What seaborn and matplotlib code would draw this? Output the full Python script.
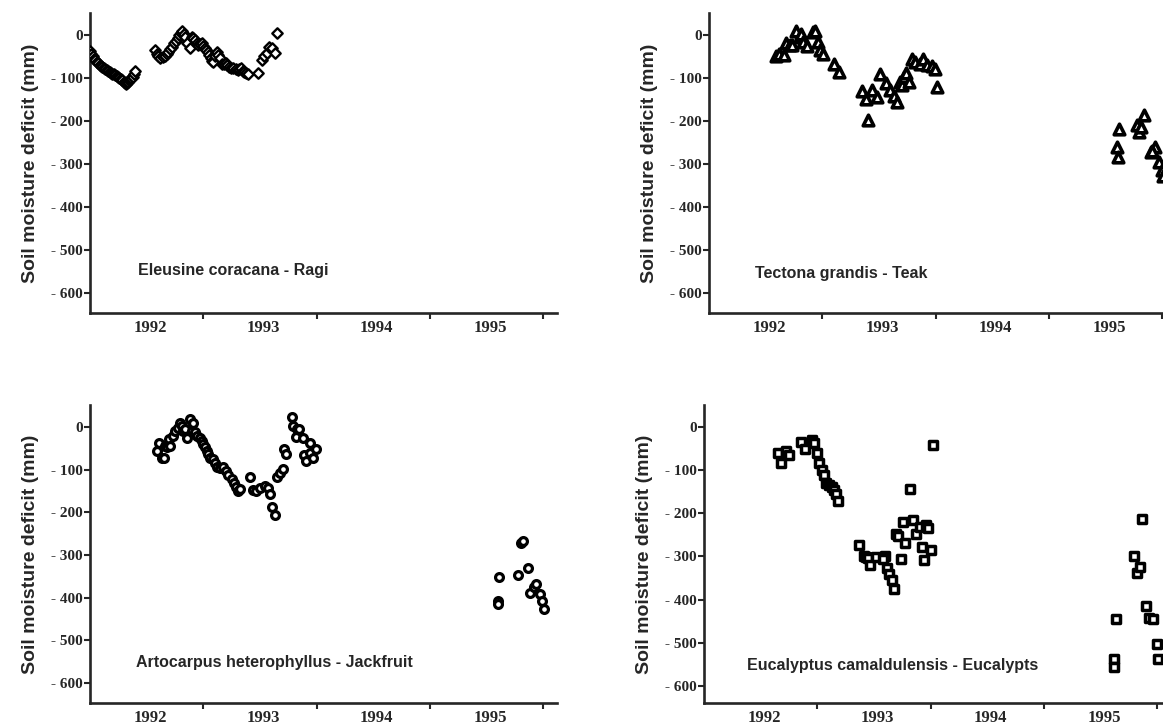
import numpy as np
import pandas as pd
import matplotlib
matplotlib.use("Agg")
import matplotlib.pyplot as plt
import seaborn as sns

sns.set_style("ticks")
plt.rcParams["font.family"] = ["Liberation Sans", "DejaVu Sans"]

# ------------------------------------------------------------------
# Datos (año decimal, déficit de humedad en mm)
# ------------------------------------------------------------------
ragi_x = [1992.000, 1992.012, 1992.024, 1992.036, 1992.048, 1992.060, 1992.072,
          1992.085, 1992.098, 1992.110, 1992.122, 1992.135, 1992.148, 1992.160,
          1992.172, 1992.185, 1992.198, 1992.210, 1992.222, 1992.235, 1992.248,
          1992.260, 1992.272, 1992.285, 1992.296, 1992.306, 1992.316, 1992.326,
          1992.336, 1992.346, 1992.356, 1992.366, 1992.378, 1992.388, 1992.398,
          1992.574, 1992.589, 1992.603, 1992.618, 1992.640, 1992.662, 1992.677,
          1992.692, 1992.710, 1992.727, 1992.742, 1992.756, 1992.772, 1992.789,
          1992.803, 1992.815, 1992.827, 1992.839, 1992.860, 1992.883, 1992.898,
          1992.912, 1992.927, 1992.942, 1992.956, 1992.970, 1992.986, 1993.000,
          1993.015, 1993.027, 1993.039, 1993.054, 1993.068, 1993.080, 1993.089,
          1993.104, 1993.118, 1993.133, 1993.148, 1993.163, 1993.180, 1993.198,
          1993.212, 1993.227, 1993.245, 1993.265, 1993.285, 1993.304, 1993.318,
          1993.333, 1993.348, 1993.363, 1993.380, 1993.398, 1993.486, 1993.516,
          1993.538, 1993.560, 1993.575, 1993.605, 1993.628, 1993.648]
ragi_y = [-38, -44, -50, -55, -59, -63, -66,
          -69, -72, -75, -77, -80, -82, -84,
          -86, -88, -90, -92, -94, -96, -98,
          -100, -103, -106, -109, -112, -114, -112,
          -109, -106, -103, -100, -97, -92, -85,
          -35, -45, -50, -53, -52, -50, -45,
          -39, -33, -27, -20, -14, -7, 0,
          4, 8, 3, -4, -18, -31, -4,
          -8, -12, -18, -23, -21, -19, -25,
          -31, -36, -40, -47, -54, -60, -64,
          -50, -39, -47, -54, -68, -67, -66,
          -70, -74, -76, -78, -80, -81, -80,
          -78, -83, -87, -89, -91, -89, -58,
          -50, -43, -27, -30, -43, 4]

teca_x = [1992.593, 1992.622, 1992.661, 1992.676, 1992.711, 1992.735, 1992.770,
          1992.800, 1992.815, 1992.830, 1992.865, 1992.919, 1992.933, 1992.963,
          1992.984, 1993.007, 1993.102, 1993.150, 1993.348, 1993.387, 1993.407,
          1993.437, 1993.481, 1993.505, 1993.564, 1993.594, 1993.629, 1993.659,
          1993.683, 1993.704, 1993.719, 1993.742, 1993.763, 1993.793, 1993.822,
          1993.861, 1993.890, 1993.920, 1993.970, 1993.991, 1994.009,
          1995.615, 1995.600, 1995.606, 1995.778, 1995.798, 1995.837, 1995.816,
          1995.896, 1995.935, 1995.911, 1995.970, 1995.994, 1996.006]
teca_y = [-48, -44, -46, -20, -23, -24, 10,
          -5, 3, -17, -26, 7, 8, -17,
          -36, -44, -67, -87, -131, -150, -199,
          -129, -145, -90, -113, -129, -141, -155,
          -110, -117, -98, -88, -110, -55, -63,
          -67, -57, -69, -72, -80, -121,
          -218, -261, -283, -210, -226, -187, -214,
          -273, -260, -270, -296, -315, -329]

jaca_x = [1992.589, 1992.612, 1992.633, 1992.653, 1992.662, 1992.683, 1992.700,
          1992.706, 1992.730, 1992.751, 1992.774, 1992.795, 1992.810, 1992.824,
          1992.839, 1992.859, 1992.883, 1992.898, 1992.907, 1992.927, 1992.948,
          1992.971, 1992.986, 1993.001, 1993.015, 1993.030, 1993.045, 1993.060,
          1993.083, 1993.104, 1993.124, 1993.148, 1993.177, 1993.201, 1993.221,
          1993.251, 1993.272, 1993.289, 1993.310, 1993.324, 1993.413, 1993.436,
          1993.466, 1993.501, 1993.545, 1993.566, 1993.589, 1993.604, 1993.634,
          1993.654, 1993.678, 1993.701, 1993.713, 1993.731, 1993.781, 1993.795,
          1993.819, 1993.825, 1993.848, 1993.878, 1993.890, 1993.907, 1993.937,
          1993.943, 1993.966, 1993.996,
          1995.610, 1995.597, 1995.603, 1995.778, 1995.803, 1995.816, 1995.863,
          1995.883, 1995.914, 1995.937, 1995.968, 1995.990, 1996.010]
jaca_y = [-56, -37, -72, -74, -44, -48, -29,
          -44, -21, -9, -2, 9, 2, -9,
          -5, -25, 19, -9, 10, -13, -21,
          -25, -33, -40, -48, -56, -64, -72,
          -76, -84, -93, -97, -95, -103, -113,
          -122, -131, -141, -150, -145, -118, -147,
          -150, -144, -138, -144, -157, -188, -206,
          -118, -108, -99, -51, -64, 22, 2,
          -23, -5, -5, -25, -66, -80, -37,
          -61, -72, -52,
          -351, -407, -416, -348, -273, -268, -331,
          -389, -376, -368, -391, -407, -426]

euca_x = [1992.649, 1992.679, 1992.726, 1992.746, 1992.855, 1992.894, 1992.953,
          1992.968, 1992.997, 1993.012, 1993.041, 1993.056, 1993.080, 1993.100,
          1993.130, 1993.150, 1993.162, 1993.180, 1993.372, 1993.410, 1993.434,
          1993.445, 1993.463, 1993.522, 1993.593, 1993.581, 1993.617, 1993.637,
          1993.655, 1993.675, 1993.690, 1993.711, 1993.735, 1993.758, 1993.773,
          1993.814, 1993.847, 1993.867, 1993.905, 1993.926, 1993.941, 1993.956,
          1993.976, 1994.000, 1994.024,
          1995.636, 1995.620, 1995.620, 1995.797, 1995.823, 1995.846, 1995.862,
          1995.903, 1995.929, 1995.958, 1995.994, 1996.010]
euca_y = [-60, -83, -56, -64, -34, -52, -31,
          -37, -60, -83, -99, -112, -130, -135,
          -138, -146, -156, -171, -273, -298, -301,
          -304, -321, -301, -298, -307, -327, -340,
          -354, -376, -247, -252, -305, -220, -270,
          -144, -216, -249, -231, -278, -309, -226,
          -234, -284, -42,
          -445, -537, -557, -298, -339, -324, -214,
          -414, -443, -445, -504, -538]

y_ticks = [0, -100, -200, -300, -400, -500, -600]
y_tick_labels = ["0", "- 100", "- 200", "- 300", "- 400", "- 500", "- 600"]
year_bounds = [1993, 1994, 1995, 1996]
year_labels = ["1992", "1993", "1994", "1995"]

serif = ["Liberation Serif", "DejaVu Serif"]

paneles = [
    # x, y, marcador, tamaño, grosor, título, posición [l, b, w, h], y mínimo, texto
    (ragi_x, ragi_y, "D", 28, 1.7, "Eleusine coracana - Ragi",
     [0.0774, 0.5683, 0.4015, 0.4138], -647, (1992.42, -547)),
    (teca_x, teca_y, "^", 58, 2.6, "Tectona grandis - Teak",
     [0.6096, 0.5683, 0.4015, 0.4138], -647, (1992.41, -554)),
    (jaca_x, jaca_y, "o", 32, 2.3, "Artocarpus heterophyllus - Jackfruit",
     [0.0774, 0.0303, 0.4015, 0.4110], -647, (1992.406, -551)),
    (euca_x, euca_y, "s", 32, 2.5, "Eucalyptus camaldulensis - Eucalypts",
     [0.6053, 0.0303, 0.4015, 0.4110], -640, (1992.38, -554)),
]

fig = plt.figure(figsize=(11.63, 7.25), dpi=100)

for xs, ys, marca, tam, lw, titulo, pos, ymin, txt_pos in paneles:
    ax = fig.add_axes(pos)
    df = pd.DataFrame({"anio": xs, "deficit": ys})
    sns.scatterplot(data=df, x="anio", y="deficit", marker=marca, s=tam,
                    facecolor="white", edgecolor="black", linewidth=lw,
                    ax=ax, zorder=3)
    ax.set_xlim(1992, 1996.12)
    ax.set_ylim(ymin, 51)
    sns.despine(ax=ax)
    for lado in ["left", "bottom"]:
        ax.spines[lado].set_linewidth(1.9)

    ax.set_yticks(y_ticks)
    ax.set_yticklabels(y_tick_labels, family=serif, fontweight="bold", fontsize=11)
    ax.tick_params(axis="y", direction="out", length=4, width=1.5, pad=1)

    ax.set_xticks(year_bounds)
    ax.set_xticklabels([])
    ax.set_xticks([b - 0.47 for b in year_bounds], minor=True)
    ax.set_xticklabels(year_labels, minor=True, family=serif,
                       fontweight="bold", fontsize=12)
    ax.tick_params(axis="x", which="major", direction="out", length=4, width=1.5)
    ax.tick_params(axis="x", which="minor", length=0, pad=5)

    ax.set_xlabel("")
    ax.set_ylabel("Soil moisture deficit (mm)", fontsize=14,
                  fontweight="bold", labelpad=9)
    ax.text(txt_pos[0], txt_pos[1], titulo, fontsize=11.5, fontweight="bold",
            ha="left", va="center")

fig.savefig("out.png", dpi=100)
